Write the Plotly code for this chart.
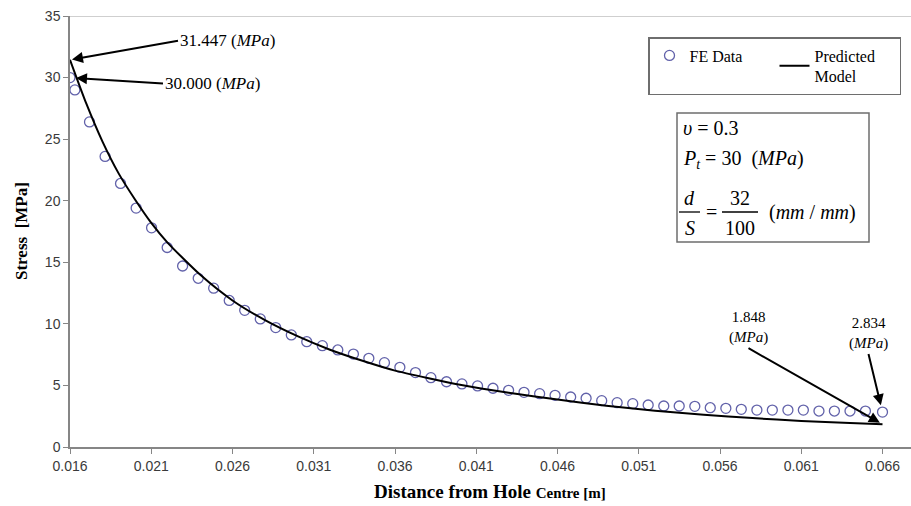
import plotly.graph_objects as go

# ---------------- data ----------------
fe_x = [0.0160, 0.0163, 0.01720, 0.01816, 0.01911, 0.02007, 0.02102, 0.02198, 0.02293,
        0.02389, 0.02484, 0.02580, 0.02675, 0.02771, 0.02866, 0.02962, 0.03057, 0.03153,
        0.03248, 0.03344, 0.03439, 0.03535, 0.03630, 0.03726, 0.03821, 0.03917, 0.04012,
        0.04108, 0.04203, 0.04299, 0.04394, 0.04490, 0.04585, 0.04681, 0.04776, 0.04872,
        0.04967, 0.05063, 0.05158, 0.05254, 0.05349, 0.05445, 0.05540, 0.05636, 0.05731,
        0.05827, 0.05922, 0.06018, 0.06113, 0.06209, 0.06304, 0.06400, 0.06495, 0.0660]
fe_y = [30.0, 29.0, 26.4, 23.6, 21.4, 19.4, 17.8, 16.2, 14.7,
        13.7, 12.9, 11.9, 11.1, 10.4, 9.7, 9.1, 8.55, 8.23,
        7.88, 7.55, 7.2, 6.85, 6.47, 6.04, 5.63, 5.3, 5.12,
        4.96, 4.77, 4.6, 4.44, 4.33, 4.2, 4.06, 3.96, 3.76,
        3.6, 3.52, 3.41, 3.33, 3.33, 3.3, 3.19, 3.14, 3.06,
        3.0, 3.0, 3.0, 3.0, 2.92, 2.92, 2.92, 2.92, 2.834]

model_x = [0.016, 0.017, 0.018, 0.019, 0.020, 0.021, 0.022, 0.024, 0.026, 0.028, 0.030,
           0.032, 0.034, 0.036, 0.038, 0.040, 0.043, 0.046, 0.049, 0.052, 0.055, 0.058,
           0.061, 0.064, 0.066]
model_y = [31.447, 27.9, 24.8, 22.2, 20.1, 18.2, 16.6, 14.0, 11.9, 10.3, 9.0,
           7.9, 7.0, 6.2, 5.6, 5.05, 4.4, 3.85, 3.35, 2.95, 2.62, 2.35,
           2.12, 1.95, 1.848]

x_ticks = [0.016, 0.021, 0.026, 0.031, 0.036, 0.041, 0.046, 0.051, 0.056, 0.061, 0.066]
y_ticks = [0, 5, 10, 15, 20, 25, 30, 35]

# ---------------- layout helpers (pixel -> paper) ----------------
W, H = 911, 506
L, R, T, B = 70, 911, 16, 447


def px(x):
    return (x - L) / (R - L)


def py(y):
    return (B - y) / (B - T)


SERIF = "Liberation Serif, Times New Roman, serif"
SANS = "Liberation Sans, Arial, sans-serif"
AX_GRAY = "#868686"

fig = go.Figure()
fig.add_trace(go.Scatter(
    x=fe_x, y=fe_y, mode="markers", name="FE Data",
    marker=dict(symbol="circle-open", size=10, color="#6262aa", line=dict(width=1.3)),
))
fig.add_trace(go.Scatter(
    x=model_x, y=model_y, mode="lines", name="Predicted<br>Model",
    line=dict(color="black", width=2, shape="spline", smoothing=0.6),
))

fig.update_xaxes(
    range=[0.016, 0.016 + (R - L) / 16250.0],
    tickvals=x_ticks, ticktext=[f"{v:.3f}" for v in x_ticks],
    showgrid=False, zeroline=False,
    showline=True, linecolor=AX_GRAY, linewidth=1.5,
    ticks="outside", ticklen=5, tickcolor=AX_GRAY, tickwidth=1,
    tickfont=dict(family=SANS, size=14, color="#3a3a3a"),
    automargin=False,
)
fig.update_yaxes(
    range=[0, 35], tickvals=y_ticks,
    showgrid=False, zeroline=False,
    showline=True, linecolor=AX_GRAY, linewidth=1.5,
    ticks="outside", ticklen=5, tickcolor=AX_GRAY, tickwidth=1,
    tickfont=dict(family=SANS, size=14, color="#3a3a3a"),
    automargin=False,
)

shapes = [
    # top frame line of the plot area
    dict(type="line", xref="paper", yref="y", x0=0, x1=1, y0=35, y1=35,
         line=dict(color="#a0a0a0", width=1.2)),
    # parameter box
    dict(type="rect", xref="paper", yref="paper", x0=px(677), x1=px(869), y0=py(242), y1=py(113),
         line=dict(color="#6e6e6e", width=1.5), fillcolor="white"),
    # fraction bars
    dict(type="line", xref="paper", yref="paper", x0=px(679), x1=px(700), y0=py(212), y1=py(212),
         line=dict(color="black", width=1.3)),
    dict(type="line", xref="paper", yref="paper", x0=px(722), x1=px(758), y0=py(212), y1=py(212),
         line=dict(color="black", width=1.3)),
]

annotations = []


def txt(x, y, text, size=20, xanchor="left", yanchor="middle", family=SERIF):
    annotations.append(dict(x=px(x), y=py(y), xref="paper", yref="paper", text=text,
                            showarrow=False, xanchor=xanchor, yanchor=yanchor,
                            font=dict(family=family, size=size, color="black")))


# parameter box texts
txt(681, 128, "<i>υ</i> = 0.3")
txt(681, 159, "<i>P</i><sub><i>t</i></sub> = 30 &nbsp;(<i>MPa</i>)")
txt(689.5, 198, "<i>d</i>", xanchor="center")
txt(689.5, 228, "<i>S</i>", xanchor="center")
txt(711, 212, "=", xanchor="center")
txt(740, 198, "32", xanchor="center")
txt(740, 228, "100", xanchor="center")
txt(767, 212, "(<i>mm</i> / <i>mm</i>)")

# axis titles
txt(490, 491, "<b>Distance from Hole</b> <b><span style='font-size:15px'>Centre [m]</span></b>",
    size=19, xanchor="center")
annotations.append(dict(x=px(21), y=py(231), xref="paper", yref="paper",
                        text="<b>Stress &nbsp;[MPa]</b>", textangle=-90, showarrow=False,
                        xanchor="center", yanchor="middle",
                        font=dict(family=SERIF, size=17, color="black")))

# arrow annotations
ARW = dict(showarrow=True, arrowhead=2, arrowsize=1.1, arrowwidth=2, arrowcolor="black",
           axref="pixel", ayref="pixel")
annotations.append(dict(x=model_x[0], y=model_y[0], xref="x", yref="y",
                        text="31.447 (<i>MPa</i>)", ax=108, ay=-19, xanchor="left",
                        standoff=2, font=dict(family=SERIF, size=17, color="black"), **ARW))
annotations.append(dict(x=fe_x[0], y=fe_y[0], xref="x", yref="y",
                        text="30.000 (<i>MPa</i>)", ax=93, ay=6, xanchor="left",
                        standoff=6, font=dict(family=SERIF, size=17, color="black"), **ARW))
annotations.append(dict(x=model_x[-1], y=model_y[-1], xref="x", yref="y",
                        text="1.848<br>(<i>MPa</i>)", ax=-134, ay=-76, xanchor="center",
                        yanchor="bottom", standoff=3,
                        font=dict(family=SERIF, size=15, color="black"), **ARW))
annotations.append(dict(x=fe_x[-1], y=fe_y[-1], xref="x", yref="y",
                        text="2.834<br>(<i>MPa</i>)", ax=-14, ay=-58, xanchor="center",
                        yanchor="bottom", standoff=7,
                        font=dict(family=SERIF, size=15, color="black"), **ARW))

fig.update_layout(
    width=W, height=H,
    margin=dict(l=L, r=W - R, t=T, b=H - B, autoexpand=False),
    paper_bgcolor="white", plot_bgcolor="white",
    shapes=shapes, annotations=annotations,
    showlegend=True,
    legend=dict(x=px(648), y=py(37), xanchor="left", yanchor="top",
                orientation="h", entrywidth=80, entrywidthmode="pixels",
                bordercolor="#6e6e6e", borderwidth=1.5, bgcolor="white",
                font=dict(family=SERIF, size=16, color="black"),
                itemwidth=30, tracegroupgap=0),
)

fig.write_html("out.html")
